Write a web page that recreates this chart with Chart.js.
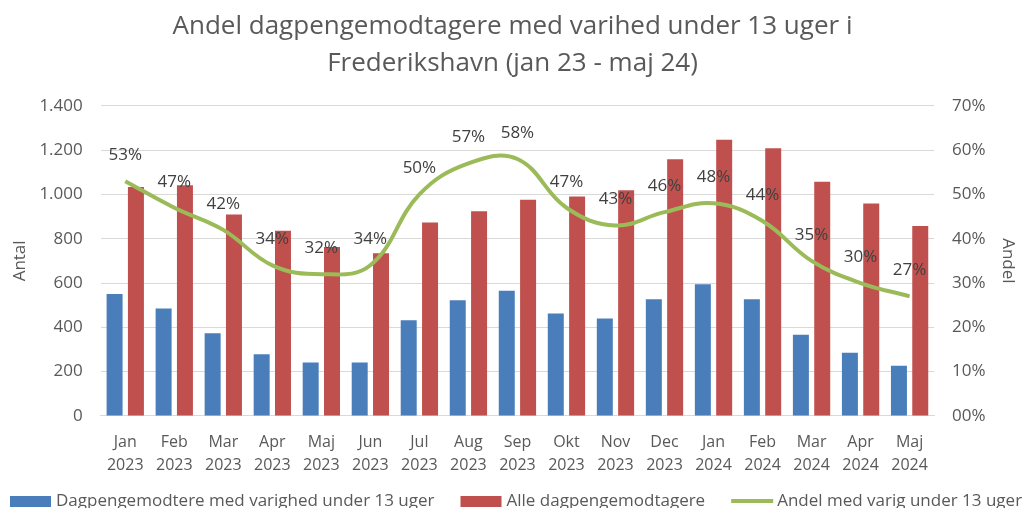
<!DOCTYPE html>
<html>
<head>
<meta charset="utf-8">
<script src="https://cdn.jsdelivr.net/npm/chart.js@4/dist/chart.umd.min.js"></script>
<style>
  html, body { margin: 0; padding: 0; background: #fff; }
  #wrap { width: 1023px; height: 508px; }
</style>
</head>
<body>
<div id="wrap"><canvas id="andelChart" width="1023" height="508"></canvas></div>
<script>
const months = [
    ['Jan', '2023'], ['Feb', '2023'], ['Mar', '2023'], ['Apr', '2023'], ['Maj', '2023'],
    ['Jun', '2023'], ['Jul', '2023'], ['Aug', '2023'], ['Sep', '2023'], ['Okt', '2023'],
    ['Nov', '2023'], ['Dec', '2023'], ['Jan', '2024'], ['Feb', '2024'], ['Mar', '2024'],
    ['Apr', '2024'], ['Maj', '2024']
];
const under13 = [550, 485, 373, 279, 241, 241, 432, 522, 565, 462, 440, 527, 595, 527, 366, 285, 227];
const alle = [1034, 1042, 909, 836, 763, 735, 873, 924, 976, 991, 1019, 1159, 1247, 1209, 1057, 959, 857];
const andel = [53, 47, 42, 34, 32, 34, 50, 57, 58, 47, 43, 46, 48, 44, 35, 30, 27];

const leftTicks = [0, 200, 400, 600, 800, 1000, 1200, 1400];
const rightTicks = [0, 10, 20, 30, 40, 50, 60, 70];

const grey = '#595959';
const fontFam = "'Open Sans', 'Noto Sans', sans-serif";

// percent labels above the line points
const pctLabels = {
    id: 'pctLabels',
    afterDatasetsDraw(chart) {
        const meta = chart.getDatasetMeta(2);
        const ctx = chart.ctx;
        ctx.save();
        ctx.font = '17px ' + fontFam;
        ctx.fillStyle = '#404040';
        ctx.textAlign = 'center';
        ctx.textBaseline = 'middle';
        meta.data.forEach((pt, i) => {
            ctx.fillText(andel[i] + '%', pt.x, pt.y - 26);
        });
        ctx.restore();
    }
};

// legend drawn by hand so it can sit low (cut off) like the original
const bottomLegend = {
    id: 'bottomLegend',
    afterDraw(chart) {
        const ctx = chart.ctx;
        const y = 501;
        let x = 10;
        ctx.save();
        ctx.font = '17px ' + fontFam;
        ctx.fillStyle = grey;
        ctx.textBaseline = 'middle';
        chart.data.datasets.forEach(ds => {
            if (ds.type === 'line') {
                ctx.fillStyle = ds.borderColor;
                ctx.fillRect(x, y - 2, 42, 4);
            } else {
                ctx.fillStyle = ds.backgroundColor;
                ctx.fillRect(x, y - 5, 41, 11);
            }
            x += 46;
            ctx.fillStyle = grey;
            ctx.fillText(ds.label, x, y);
            x += ctx.measureText(ds.label).width + 26;
        });
        ctx.restore();
    }
};

const ctx = document.getElementById('andelChart').getContext('2d');
const chart = new Chart(ctx, {
    type: 'bar',
    data: {
        labels: months,
        datasets: [{
            label: 'Dagpengemodtere med varighed under 13 uger',
            data: under13,
            backgroundColor: '#4A7EBB',
            yAxisID: 'y',
            order: 1,
            barPercentage: 0.75,
            categoryPercentage: 0.87
        }, {
            label: 'Alle dagpengemodtagere',
            data: alle,
            backgroundColor: '#C0504D',
            yAxisID: 'y',
            order: 1,
            barPercentage: 0.75,
            categoryPercentage: 0.87
        }, {
            type: 'line',
            label: 'Andel med varig under 13 uger',
            data: andel,
            borderColor: '#9BBB59',
            backgroundColor: '#9BBB59',
            borderWidth: 4,
            pointRadius: 0,
            tension: 0.4,
            yAxisID: 'y1',
            order: 0
        }]
    },
    options: {
        responsive: false,
        animation: false,
        layout: { padding: { left: 2, right: 0, top: 8, bottom: 24 } },
        plugins: {
            title: {
                display: true,
                text: ['Andel dagpengemodtagere med varihed under 13 uger i', 'Frederikshavn (jan 23 - maj 24)'],
                color: grey,
                font: { family: fontFam, size: 26, weight: 'normal', lineHeight: 1.42 },
                padding: { top: 0, bottom: 24 }
            },
            legend: { display: false },
            tooltip: { enabled: false }
        },
        scales: {
            x: {
                grid: { display: false },
                border: { color: '#d9d9d9' },
                ticks: {
                    color: grey,
                    font: { family: fontFam, size: 16, lineHeight: 1.44 },
                    maxRotation: 0,
                    autoSkip: false,
                    padding: 7
                }
            },
            y: {
                position: 'left',
                min: 0,
                max: 1400,
                afterBuildTicks: axis => { axis.ticks = leftTicks.map(v => ({ value: v })); },
                grid: { color: '#d9d9d9', drawTicks: false },
                border: { display: false },
                ticks: {
                    color: grey,
                    font: { family: fontFam, size: 17 },
                    padding: 18,
                    callback: v => v.toLocaleString('de-DE')
                },
                title: {
                    display: true,
                    text: 'Antal',
                    color: grey,
                    font: { family: fontFam, size: 17 },
                    padding: { top: 8, bottom: -9 }
                }
            },
            y1: {
                position: 'right',
                min: 0,
                max: 70,
                afterBuildTicks: axis => { axis.ticks = rightTicks.map(v => ({ value: v })); },
                grid: { display: false, drawTicks: false },
                border: { display: false },
                ticks: {
                    color: grey,
                    font: { family: fontFam, size: 17 },
                    padding: 18,
                    callback: v => (v === 0 ? '00' : v) + '%'
                },
                title: {
                    display: true,
                    text: 'Andel',
                    color: grey,
                    font: { family: fontFam, size: 17 },
                    padding: { top: 5, bottom: -6 }
                }
            }
        }
    },
    plugins: [pctLabels, bottomLegend]
});
</script>
</body>
</html>
